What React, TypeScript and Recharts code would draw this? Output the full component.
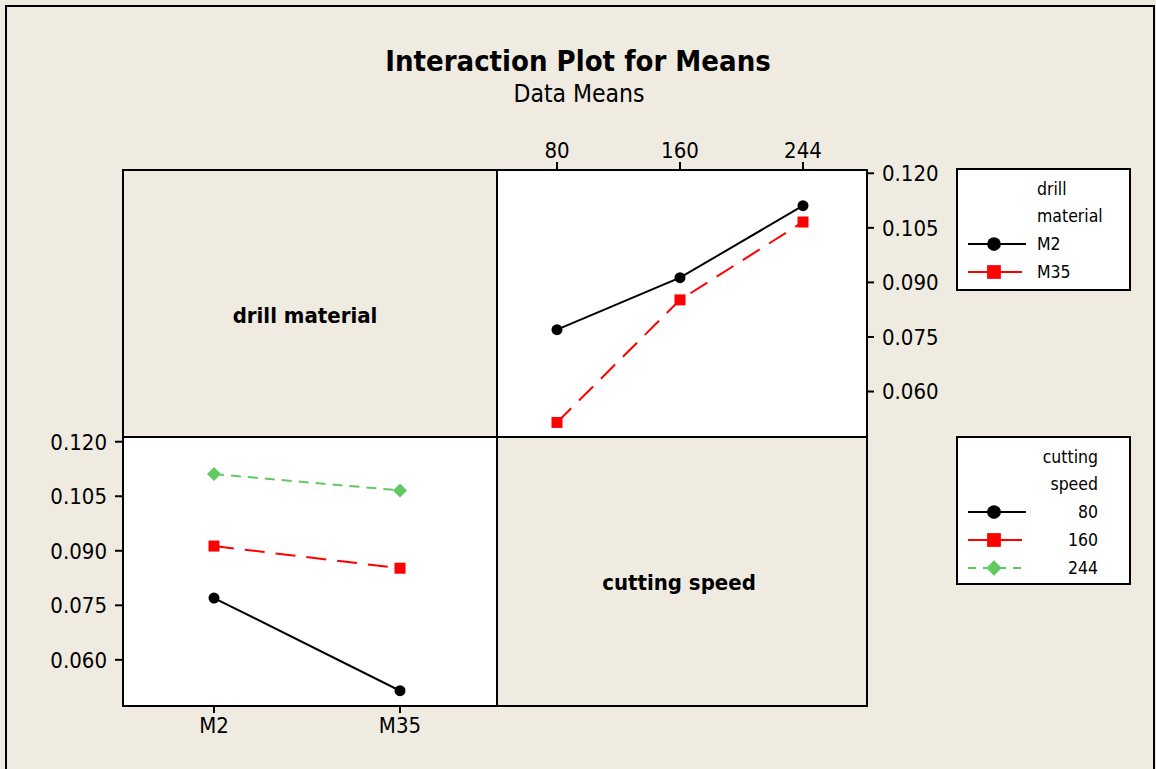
import { LineChart, Line, XAxis, YAxis } from "recharts";

// cutting speed levels and drill materials
const speeds = ["80", "160", "244"];
const materials = ["M2", "M35"];

// mean response for each drill material, one value per cutting speed
const m2Means = [0.077, 0.0913, 0.1111];
const m35Means = [0.0515, 0.0852, 0.1066];

const yTicks = [0.06, 0.075, 0.09, 0.105, 0.12];

const BG = "#EFEBE1";
const FONT = "'DejaVu Sans Condensed', 'DejaVu Sans', Verdana, sans-serif";
const GREEN = "#62C862";

// top-right panel: x = cutting speed, one line per material
const byMaterial = speeds.map((s, i) => ({
  speed: s,
  M2: m2Means[i],
  M35: m35Means[i],
}));

// bottom-left panel: x = material, one line per cutting speed
const meansByMaterial = [m2Means, m35Means];
const bySpeed = materials.map((m, j) => {
  const row: Record<string, any> = { material: m };
  speeds.forEach((s, i) => {
    row["s" + s] = meansByMaterial[j][i];
  });
  return row;
});

const Circle = ({ cx, cy, k = 1 }: any) =>
  cx == null ? null : <circle cx={cx} cy={cy} r={5.5 * k} fill="#000" />;
const Square = ({ cx, cy, k = 1 }: any) =>
  cx == null ? null : (
    <rect x={cx - 5.5 * k} y={cy - 5.5 * k} width={11 * k} height={11 * k} fill="#FF0000" />
  );
const Diamond = ({ cx, cy, k = 1 }: any) => {
  if (cx == null) return null;
  const r = 7 * k;
  return (
    <path d={`M${cx},${cy - r}L${cx + r},${cy}L${cx},${cy + r}L${cx - r},${cy}Z`} fill={GREEN} />
  );
};

const markers = [Circle, Square, Diamond];
const strokes = ["#000", "#FF0000", GREEN];
const dashes = [undefined, "20 11", "10 7"];

const tickStyle = { fill: "#000", fontSize: 22, fontFamily: FONT };
const tickLine = { stroke: "#000", strokeWidth: 2 };
const fmt = (v: number) => v.toFixed(3);

function LegendBox({
  title,
  labels,
  alignRight,
  height,
}: {
  title: string[];
  labels: string[];
  alignRight: boolean;
  height: number;
}) {
  return (
    <svg width={175} height={height} style={{ display: "block" }}>
      <rect x={1} y={1} width={173} height={height - 2} fill="#fff" stroke="#000" strokeWidth={2} />
      {title.map((t, i) => (
        <text
          key={t}
          x={alignRight ? 142 : 81}
          y={21 + i * 27}
          dominantBaseline="central"
          textAnchor={alignRight ? "end" : "start"}
          fontSize={17.5}
          fill="#000"
        >
          {t}
        </text>
      ))}
      {labels.map((l, i) => {
        const y = 76 + i * 28;
        const M = markers[i];
        return (
          <g key={l}>
            <line
              x1={12}
              x2={i === 1 ? 66 : 70}
              y1={y}
              y2={y}
              stroke={strokes[i]}
              strokeWidth={2}
              strokeDasharray={i === 2 ? "8 7" : undefined}
            />
            <M cx={38} cy={y} k={i === 2 ? 1.1 : 1.25} />
            <text
              x={alignRight ? 142 : 81}
              y={y}
              dominantBaseline="central"
              textAnchor={alignRight ? "end" : "start"}
              fontSize={17.5}
              fill="#000"
            >
              {l}
            </text>
          </g>
        );
      })}
    </svg>
  );
}

export default function App() {
  return (
    <div
      style={{
        position: "absolute",
        left: 0,
        top: 0,
        width: 1156,
        height: 769,
        background: BG,
        fontFamily: FONT,
        overflow: "hidden",
      }}
    >
      <svg width={1156} height={769} style={{ position: "absolute", left: 0, top: 0 }}>
        <rect x={6} y={6} width={1148} height={800} fill="none" stroke="#000" strokeWidth={2} />
        <text x={578} y={71} textAnchor="middle" fontSize={29} fontWeight="bold" fill="#000">
          Interaction Plot for Means
        </text>
        <text x={579} y={102} textAnchor="middle" fontSize={24.5} fill="#000">
          Data Means
        </text>
        {/* matrix panels */}
        <rect x={123} y={170} width={374} height={267} fill={BG} />
        <rect x={497} y={170} width={370} height={267} fill="#fff" />
        <rect x={123} y={437} width={374} height={269} fill="#fff" />
        <rect x={497} y={437} width={370} height={269} fill={BG} />
        <rect x={123} y={170} width={744} height={536} fill="none" stroke="#000" strokeWidth={2} />
        <line x1={497} x2={497} y1={170} y2={706} stroke="#000" strokeWidth={2} />
        <line x1={123} x2={867} y1={437} y2={437} stroke="#000" strokeWidth={2} />
        <text x={305} y={323} textAnchor="middle" fontSize={22} fontWeight="bold" fill="#000">
          drill material
        </text>
        <text x={679} y={590} textAnchor="middle" fontSize={22} fontWeight="bold" fill="#000">
          cutting speed
        </text>
      </svg>

      <div style={{ position: "absolute", left: 440, top: 110 }}>
        <LineChart
          width={540}
          height={350}
          data={byMaterial}
          margin={{ top: 20, right: 43, bottom: 23, left: 57 }}
        >
          <XAxis
            dataKey="speed"
            orientation="top"
            height={40}
            padding={{ left: 60, right: 64 }}
            axisLine={false}
            tickLine={tickLine}
            tickSize={8}
            tickMargin={4}
            tick={tickStyle}
            interval={0}
          />
          <YAxis
            orientation="right"
            width={70}
            domain={[0.0475, 0.1209]}
            ticks={yTicks}
            tickFormatter={fmt}
            axisLine={false}
            tickLine={tickLine}
            tickSize={7}
            tickMargin={8}
            tick={tickStyle}
            allowDataOverflow
          />
          {materials.map((m, i) => {
            const M = markers[i];
            return (
              <Line
                key={m}
                dataKey={m}
                stroke={strokes[i]}
                strokeWidth={2}
                strokeDasharray={dashes[i]}
                dot={(p: any) => <M key={p.key ?? p.index} cx={p.cx} cy={p.cy} />}
                activeDot={false}
                isAnimationActive={false}
              />
            );
          })}
        </LineChart>
      </div>

      <div style={{ position: "absolute", left: 20, top: 420 }}>
        <LineChart
          width={500}
          height={340}
          data={bySpeed}
          margin={{ top: 17, right: 24, bottom: 14, left: 13 }}
        >
          <XAxis
            dataKey="material"
            height={40}
            padding={{ left: 91, right: 96 }}
            axisLine={false}
            tickLine={tickLine}
            tickSize={7}
            tickMargin={4}
            tick={tickStyle}
            interval={0}
          />
          <YAxis
            width={90}
            domain={[0.0473, 0.1213]}
            ticks={yTicks}
            tickFormatter={fmt}
            axisLine={false}
            tickLine={tickLine}
            tickSize={8}
            tickMargin={8}
            tick={tickStyle}
            allowDataOverflow
          />
          {speeds.map((s, i) => {
            const M = markers[i];
            return (
              <Line
                key={s}
                dataKey={"s" + s}
                stroke={strokes[i]}
                strokeWidth={2}
                strokeDasharray={dashes[i]}
                dot={(p: any) => <M key={p.key ?? p.index} cx={p.cx} cy={p.cy} />}
                activeDot={false}
                isAnimationActive={false}
              />
            );
          })}
        </LineChart>
      </div>

      <div style={{ position: "absolute", left: 956, top: 168 }}>
        <LegendBox title={["drill", "material"]} labels={materials} alignRight={false} height={123} />
      </div>
      <div style={{ position: "absolute", left: 956, top: 436 }}>
        <LegendBox title={["cutting", "speed"]} labels={speeds} alignRight={true} height={149} />
      </div>
    </div>
  );
}
